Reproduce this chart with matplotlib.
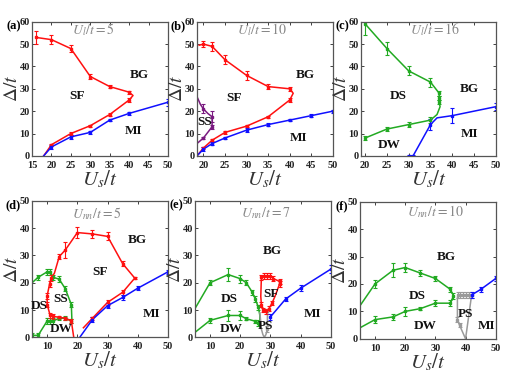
from matplotlib import rcParams
from matplotlib.pyplot import figure

rcParams["font.family"] = ["Liberation Serif", "DejaVu Serif"]
rcParams["mathtext.fontset"] = "stix"

RED = "#ff1010"
BLUE = "#1010ff"
GREEN = "#22aa22"
PURPLE = "#7a1a80"
GRAY = "#9a9a9a"

# ---- (a) U_l/t = 5
a_sf_x = [16, 20, 25, 30, 35, 40, 41, 40, 35, 30, 25, 20, 18]
a_sf_y = [53, 52, 48, 35.5, 31, 28.5, 27, 25, 18.5, 13.5, 10, 5, 0]
a_sf_e = [3, 2, 1.5, 1, 0.8, 0.6, None, 1, 0.8, 0.5, 0.5, 0.5, None]
a_mi_x = [18, 20, 25, 30, 35, 40, 50]
a_mi_y = [0, 4, 8.5, 10.5, 16, 19, 24]
a_mi_e = [None, 0.8, 0.8, 0.6, 0.6, 0.6, 1.5]

# ---- (b) U_l/t = 10
b_sf_x = [19, 20, 22, 25, 30, 35, 40, 40.8, 40, 35, 30, 25, 22, 20, 18.5]
b_sf_y = [49.5, 50, 49, 43, 36, 31, 30, 28, 25, 17.5, 13.3, 10.5, 7, 3.5, 0]
b_sf_e = [None, 1.5, 2, 2, 2, 1, 1, None, 1, 0.5, 0.5, 0.5, 0.5, 0.5, None]
b_mi_x = [18.5, 20, 22, 25, 30, 35, 40, 45, 50]
b_mi_y = [0, 3, 5.5, 8, 11.5, 14, 16, 18, 20]
b_mi_e = [None, 0.8, 0.8, 0.6, 0.8, 0.6, 0.6, 0.6, 0.6]
b_ss_x = [18.5, 19.3, 20, 21, 22, 22, 22, 21, 20, 18.5]
b_ss_y = [26.5, 23, 21, 19, 17.5, 15, 13, 10.5, 8, 5.5]
b_ss_e = [None, None, 2, None, 2.5, None, 1, None, 0.5, None]

# ---- (c) U_l/t = 16
c_ds_x = [20, 25, 30, 35, 37, 37, 37, 37.2, 36.5, 35, 30, 25, 20]
c_ds_y = [59, 48, 38, 33, 28, 26, 24, 22, 18.5, 16, 14, 12, 8]
c_ds_e = [5, 3, 2, 2, 1, 1, 1, None, None, 1.5, 1, 1, 1]
c_mi_x = [30, 31, 35, 36.5, 40, 50]
c_mi_y = [0, 0, 14, 17, 18, 22]
c_mi_e = [0.4, 0.4, 2.5, None, 3.5, 1.5]

# ---- (d) U_nn/t = 5
d_sf_x = [18.8, 18, 16, 14, 12, 11, 10, 10, 10.8, 11.3, 12.4, 14, 16, 20, 25, 30,
          35, 39, 35, 30, 25, 22]
d_sf_y = [0, 6, 7, 7.3, 7.7, 8, 12, 15.2, 19.6, 21.7, 23.5, 29.6, 32, 38.4, 37.9, 37,
          27, 21.7, 16.5, 12.8, 7, 3.5]
d_sf_e = [None, 0.6, 0.6, 0.6, 1, 1, 1, 1, 1, 1, None, 1, 3, 2, 1.5, 1.5,
          1, 0.5, 1, 0.8, 0.6, None]
d_ds_x = [5, 7, 10, 11, 12, 14, 16, 18, 18.2]
d_ds_y = [20, 22, 24, 24, 22, 21.3, 17.8, 12, 6]
d_ds_e = [None, 1, 1, 1, 1, 1, 1, 1, None]
d_dw_x = [5, 7, 10, 11, 12, 14, 16, 18]
d_dw_y = [0.7, 0.7, 6, 6, 6, 7, 7, 6]
d_dw_e = [0.8, 0.8, 1, 1, 1, 0.6, 0.8, 0.8]
d_mi_x = [20.8, 25, 30, 35, 40, 50]
d_mi_y = [0, 6.5, 11.6, 14.6, 18, 24]
d_mi_e = [None, 0.8, 0.8, 0.8, 0.8, 0.8]

# ---- (e) U_nn/t = 7
e_ds_x = [5, 10, 16, 20, 22, 24, 25, 26, 26.5, 26.5]
e_ds_y = [10.5, 20, 23, 21.5, 20, 16.5, 14, 11, 8, 4]
e_ds_e = [None, 1, 2.5, 1.5, 1, 1, 1, 1, None, None]
e_dw_x = [5, 10, 16, 20, 22, 25, 26, 26.5]
e_dw_y = [1.8, 6.2, 8, 8, 6.8, 5.9, 5.3, 4]
e_dw_e = [None, 1, 2, 1.5, 0.6, 0.6, 1, None]
e_sf_x = [27, 28, 29, 30, 31, 33, 33, 31.5, 30.5, 29.5, 28.5, 27.5, 27, 26.8, 27]
e_sf_y = [22, 22.5, 22.5, 22.5, 21.5, 20.5, 19.5, 15, 12.5, 10.5, 9.5, 10, 12, 15, 22]
e_sf_e = [1, 1, 1, 1, 1, 1, 1, None, 0.8, 0.8, 0.8, 0.8, 0.8, None, None]
e_ps_x = [26.5, 27, 27.5, 28, 28.5, 29, 29]
e_ps_y = [9, 3, 1, 0, 1, 3, 9.5]
e_ps_e = [None, None, None, None, None, 1, 1]
e_mi_x = [30, 35, 40, 50]
e_mi_y = [7.5, 14, 18, 25]
e_mi_e = [1.2, 0.8, 1, 1.5]

# ---- (f) U_nn/t = 10
f_ds_x = [5, 10, 16, 20, 25, 30, 35, 36]
f_ds_y = [12, 20, 25, 26, 24, 22, 18, 15.7]
f_ds_e = [None, 1.5, 2.5, 1.5, 1, 1, 1, 1]
f_dw_x = [5, 10, 16, 20, 25, 30, 35, 36]
f_dw_y = [4, 7, 8, 10, 11, 13, 13, 15.7]
f_dw_e = [None, 1.2, 1, 1.5, 0.5, 1, 1, None]
f_ps_x = [37.5, 38, 39, 40, 41, 42, 41.5, 41, 40, 38, 37.3, 37.3, 37.5]
f_ps_y = [16, 16, 16, 16, 16, 16, 12, 8, 0, 5, 7, 15, 16]
f_ps_e = [1, 1, 1, 1, 1, 1, None, None, None, 0.8, 0.8, None, None]
f_mi_x = [42, 45, 50]
f_mi_y = [16, 18, 22]
f_mi_e = [1.2, 0.8, 0.8]


def draw_curve(ax, xs, ys, errs, color):
    ax.plot(xs, ys, "-", color=color, lw=1.1)
    pts = [(x, y, e) for x, y, e in zip(xs, ys, errs) if e is not None]
    if pts:
        px, py, pe = zip(*pts)
        ax.errorbar(px, py, yerr=pe, fmt="s", ms=1.8, color=color,
                    elinewidth=0.8, capsize=1.5, capthick=0.8)


def style_axes(ax, letter, title, tx, ty, xlim, ylim, xticks, yticks):
    ax.set_xlim(*xlim)
    ax.set_ylim(*ylim)
    ax.set_xticks(xticks)
    ax.set_yticks(yticks)
    for sp in ax.spines.values():
        sp.set_color("#555555")
        sp.set_linewidth(0.9)
    ax.tick_params(direction="in", length=2.5, width=0.6, labelsize=7.5,
                   pad=1.5, top=True, right=True, colors="#222222")
    ax.tick_params(axis="x", pad=3.5)
    for lab in ax.get_xticklabels() + ax.get_yticklabels():
        lab.set_fontweight("bold")
    ax.set_xlabel(r"$U_s/t$", fontsize=15, color="#333333", labelpad=-1)
    ax.set_ylabel(r"$\Delta/t$", fontsize=14, color="#333333", labelpad=-1)
    ax.text(tx, ty, title, transform=ax.transAxes, ha="center", va="center",
            fontsize=10, color="#888888")
    ax.text(-0.085, 0.965, letter, transform=ax.transAxes, ha="right",
            va="center", fontsize=9, fontweight="bold")


def region(ax, x, y, s):
    ax.text(x, y, s, ha="center", va="center", fontsize=9.5,
            fontweight="bold", color="#111111")


fig = figure(figsize=(5.09, 3.82), dpi=100)

ax_a = fig.add_axes([0.063, 0.592, 0.267, 0.351])
ax_b = fig.add_axes([0.387, 0.592, 0.267, 0.351])
ax_c = fig.add_axes([0.709, 0.592, 0.265, 0.351])
ax_d = fig.add_axes([0.063, 0.117, 0.267, 0.357])
ax_e = fig.add_axes([0.383, 0.117, 0.267, 0.357])
ax_f = fig.add_axes([0.707, 0.113, 0.267, 0.359])

top_x = [15, 20, 25, 30, 35, 40, 45, 50]
top_y = [0, 10, 20, 30, 40, 50, 60]
bot_x = [10, 20, 30, 40, 50]
bot_y = [0, 10, 20, 30, 40, 50]

# (a)
draw_curve(ax_a, a_sf_x, a_sf_y, a_sf_e, RED)
draw_curve(ax_a, a_mi_x, a_mi_y, a_mi_e, BLUE)
style_axes(ax_a, "(a)", r"$U_l/t=5$", 0.45, 0.94, (15, 50), (0, 60), top_x, top_y)
region(ax_a, 42.5, 36, "BG")
region(ax_a, 26.5, 27, "SF")
region(ax_a, 41, 11, "MI")

# (b)
draw_curve(ax_b, b_sf_x, b_sf_y, b_sf_e, RED)
draw_curve(ax_b, b_mi_x, b_mi_y, b_mi_e, BLUE)
draw_curve(ax_b, b_ss_x, b_ss_y, b_ss_e, PURPLE)
style_axes(ax_b, "(b)", r"$U_l/t=10$", 0.48, 0.94, (18.5, 50), (0, 60),
           top_x[1:], top_y)
region(ax_b, 43.5, 36, "BG")
region(ax_b, 27, 26, "SF")
region(ax_b, 42, 8, "MI")
region(ax_b, 20.2, 15, "SS")

# (c)
draw_curve(ax_c, c_ds_x, c_ds_y, c_ds_e, GREEN)
draw_curve(ax_c, c_mi_x, c_mi_y, c_mi_e, BLUE)
style_axes(ax_c, "(c)", r"$U_l/t=16$", 0.55, 0.94, (19, 50), (0, 60),
           top_x[1:], top_y)
region(ax_c, 27.5, 27, "DS")
region(ax_c, 44, 30, "BG")
region(ax_c, 25.5, 5, "DW")
region(ax_c, 44, 10, "MI")

# (d)
draw_curve(ax_d, d_ds_x, d_ds_y, d_ds_e, GREEN)
draw_curve(ax_d, d_dw_x, d_dw_y, d_dw_e, GREEN)
draw_curve(ax_d, d_sf_x, d_sf_y, d_sf_e, RED)
draw_curve(ax_d, d_mi_x, d_mi_y, d_mi_e, BLUE)
style_axes(ax_d, "(d)", r"$U_{nn}/t=5$", 0.48, 0.91, (5, 50), (0, 50), bot_x, bot_y)
region(ax_d, 40, 35.5, "BG")
region(ax_d, 27.5, 24, "SF")
region(ax_d, 14.5, 14, "SS")
region(ax_d, 7.3, 11.5, "DS")
region(ax_d, 14.5, 3, "DW")
region(ax_d, 44.5, 8.5, "MI")

# (e)
draw_curve(ax_e, e_ds_x, e_ds_y, e_ds_e, GREEN)
draw_curve(ax_e, e_dw_x, e_dw_y, e_dw_e, GREEN)
draw_curve(ax_e, e_ps_x, e_ps_y, e_ps_e, GRAY)
draw_curve(ax_e, e_sf_x, e_sf_y, e_sf_e, RED)
draw_curve(ax_e, e_mi_x, e_mi_y, e_mi_e, BLUE)
style_axes(ax_e, "(e)", r"$U_{nn}/t=7$", 0.52, 0.91, (5, 50), (0, 50), bot_x, bot_y)
region(ax_e, 30.5, 31.5, "BG")
region(ax_e, 16.5, 14, "DS")
region(ax_e, 30.3, 16, "SF")
region(ax_e, 17, 3, "DW")
region(ax_e, 28.5, 4, "PS")
region(ax_e, 44, 8.5, "MI")

# (f)
draw_curve(ax_f, f_ds_x, f_ds_y, f_ds_e, GREEN)
draw_curve(ax_f, f_dw_x, f_dw_y, f_dw_e, GREEN)
draw_curve(ax_f, f_ps_x, f_ps_y, f_ps_e, GRAY)
draw_curve(ax_f, f_mi_x, f_mi_y, f_mi_e, BLUE)
style_axes(ax_f, "(f)", r"$U_{nn}/t=10$", 0.56, 0.93, (5, 50), (0, 50), bot_x, bot_y)
region(ax_f, 33.5, 30, "BG")
region(ax_f, 24, 15.5, "DS")
region(ax_f, 26.5, 4.5, "DW")
region(ax_f, 40, 9, "PS")
region(ax_f, 47, 4.5, "MI")

fig.savefig("out.png", dpi=100)
